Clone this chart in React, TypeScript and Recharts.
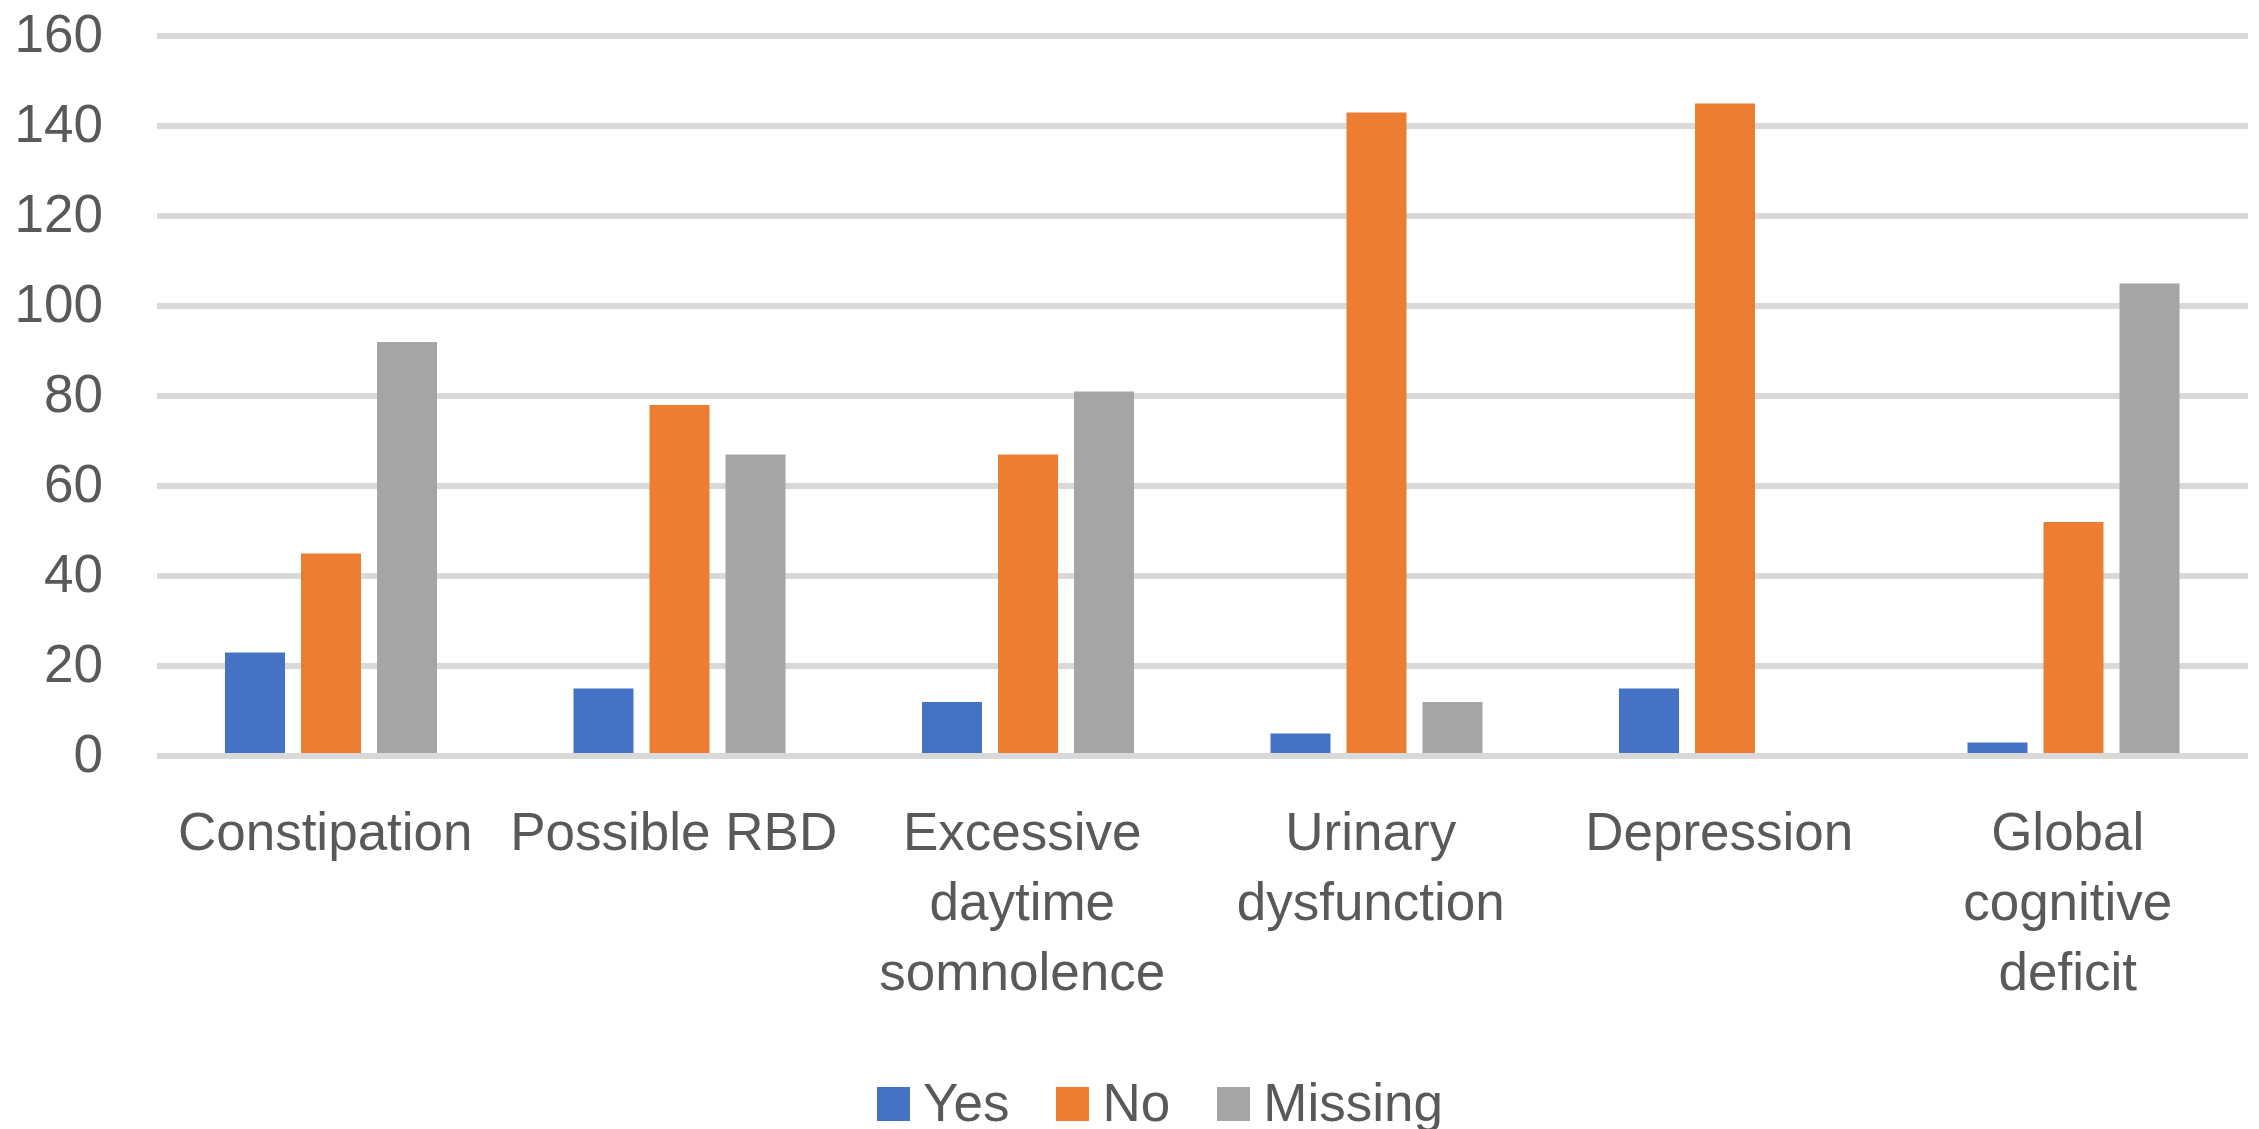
import React from 'react';
import { BarChart, Bar, XAxis, YAxis, CartesianGrid, Legend } from 'recharts';

// Non-motor symptom assessment counts per category
const categories = [
  'Constipation',
  'Possible RBD',
  'Excessive daytime somnolence',
  'Urinary dysfunction',
  'Depression',
  'Global cognitive deficit',
];
const yesValues = [23, 15, 12, 5, 15, 3];
const noValues = [45, 78, 67, 143, 145, 52];
const missingValues = [92, 67, 81, 12, 0, 105];

const yTicks = [0, 20, 40, 60, 80, 100, 120, 140, 160];
const seriesNames = ['Yes', 'No', 'Missing'];
const seriesColors = ['#4472C4', '#ED7D31', '#A5A5A5'];

const data = categories.map((name, i) => ({
  name,
  Yes: yesValues[i],
  No: noValues[i],
  Missing: missingValues[i],
}));

const FONT = '"Liberation Sans", Arial, sans-serif';
const FONT_SIZE = 53;
const TEXT_COLOR = '#595959';
const GRID_COLOR = '#D9D9D9';
const LABEL_WIDTH = 340;
const LINE_HEIGHT = 70;

let measureCtx: CanvasRenderingContext2D | null = null;
const measure = (s: string) => {
  if (!measureCtx) {
    const c = document.createElement('canvas');
    measureCtx = c.getContext('2d');
  }
  if (!measureCtx) return s.length * FONT_SIZE * 0.5;
  measureCtx.font = `${FONT_SIZE}px ${FONT}`;
  return measureCtx.measureText(s).width;
};

// Greedy word wrap of a category label into lines no wider than maxWidth
const wrapLabel = (label: string, maxWidth: number) => {
  const words = label.split(' ');
  const lines: string[] = [];
  let current = '';
  words.forEach((w) => {
    const candidate = current ? `${current} ${w}` : w;
    if (current && measure(candidate) > maxWidth) {
      lines.push(current);
      current = w;
    } else {
      current = candidate;
    }
  });
  if (current) lines.push(current);
  return lines;
};

const YTick = (props: any) => {
  const { x, y, payload } = props;
  return (
    <text
      x={x}
      y={y}
      dy={FONT_SIZE * 0.355 - 3}
      textAnchor="end"
      fill={TEXT_COLOR}
      fontSize={FONT_SIZE}
      fontFamily={FONT}
    >
      {payload.value}
    </text>
  );
};

const XTick = (props: any) => {
  const { x, y, payload } = props;
  const lines = wrapLabel(String(payload.value), LABEL_WIDTH);
  const cx = x - 6;
  return (
    <text
      x={cx}
      y={y}
      textAnchor="middle"
      fill={TEXT_COLOR}
      fontSize={FONT_SIZE}
      fontFamily={FONT}
    >
      {lines.map((line, i) => (
        <tspan key={i} x={cx} dy={i === 0 ? FONT_SIZE * 0.71 : LINE_HEIGHT}>
          {line}
        </tspan>
      ))}
    </text>
  );
};

const LegendContent = () => (
  <div
    style={{
      display: 'flex',
      alignItems: 'flex-start',
      height: 59,
      paddingLeft: 877,
      boxSizing: 'border-box',
      fontFamily: FONT,
      fontSize: FONT_SIZE,
      color: TEXT_COLOR,
    }}
  >
    {seriesNames.map((name, i) => (
      <div key={name} style={{ display: 'flex', alignItems: 'flex-start', marginRight: 47 }}>
        <div
          style={{
            width: 33,
            height: 34,
            marginTop: 17,
            background: seriesColors[i],
          }}
        />
        <span style={{ marginLeft: 13, lineHeight: '61px', marginTop: 2, whiteSpace: 'nowrap' }}>
          {name}
        </span>
      </div>
    ))}
  </div>
);

export default function App() {
  return (
    <div
      style={{
        position: 'absolute',
        left: 0,
        top: 0,
        width: 2259,
        height: 1129,
        background: '#ffffff',
      }}
    >
      <BarChart
        width={2259}
        height={1129}
        data={data}
        margin={{ top: 36, right: 11, left: 0, bottom: 0 }}
        barCategoryGap={68}
        barGap={16}
      >
        <CartesianGrid vertical={false} stroke={GRID_COLOR} strokeWidth={6} />
        <YAxis
          domain={[0, 160]}
          ticks={yTicks}
          width={157}
          axisLine={false}
          tickLine={false}
          tickSize={0}
          tickMargin={54}
          tick={<YTick />}
          interval={0}
        />
        {seriesNames.map((name, i) => (
          <Bar key={name} dataKey={name} fill={seriesColors[i]} isAnimationActive={false} />
        ))}
        <XAxis
          dataKey="name"
          height={314}
          interval={0}
          axisLine={{ stroke: GRID_COLOR, strokeWidth: 6 }}
          tickLine={false}
          tickSize={0}
          tickMargin={56}
          tick={<XTick />}
        />
        <Legend
          verticalAlign="bottom"
          content={<LegendContent />}
          wrapperStyle={{ left: 0, width: 2259, height: 59 }}
        />
      </BarChart>
    </div>
  );
}
